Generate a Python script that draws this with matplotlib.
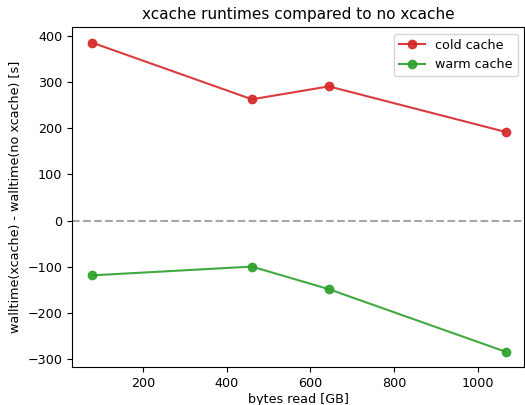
import matplotlib
matplotlib.use('Agg')
import matplotlib.pyplot as plt

bytes_read = [78, 460, 644, 1067]
cold_cache = [386, 263, 291, 192]
warm_cache = [-119, -100, -149, -285]

plt.rcParams['font.size'] = 9.2

fig, ax = plt.subplots(figsize=[5.25, 4.05], dpi=100)
fig.subplots_adjust(left=0.137, right=0.998, top=0.933, bottom=0.093)

ax.plot(bytes_read, cold_cache, 'o-', color='tab:red', label='cold cache', alpha=0.9)
ax.plot(bytes_read, warm_cache, 'o-', color='tab:green', label='warm cache', alpha=0.9)
ax.axhline(0, color='gray', linestyle='--', alpha=0.7)

ax.set_xlabel('bytes read [GB]', labelpad=2)
ax.set_ylabel('walltime(xcache) - walltime(no xcache) [s]')
ax.set_title('xcache runtimes compared to no xcache', fontsize=11)
ax.set_xlim(30, 1110)
ax.legend(loc='upper right')

fig.savefig('out.png')
